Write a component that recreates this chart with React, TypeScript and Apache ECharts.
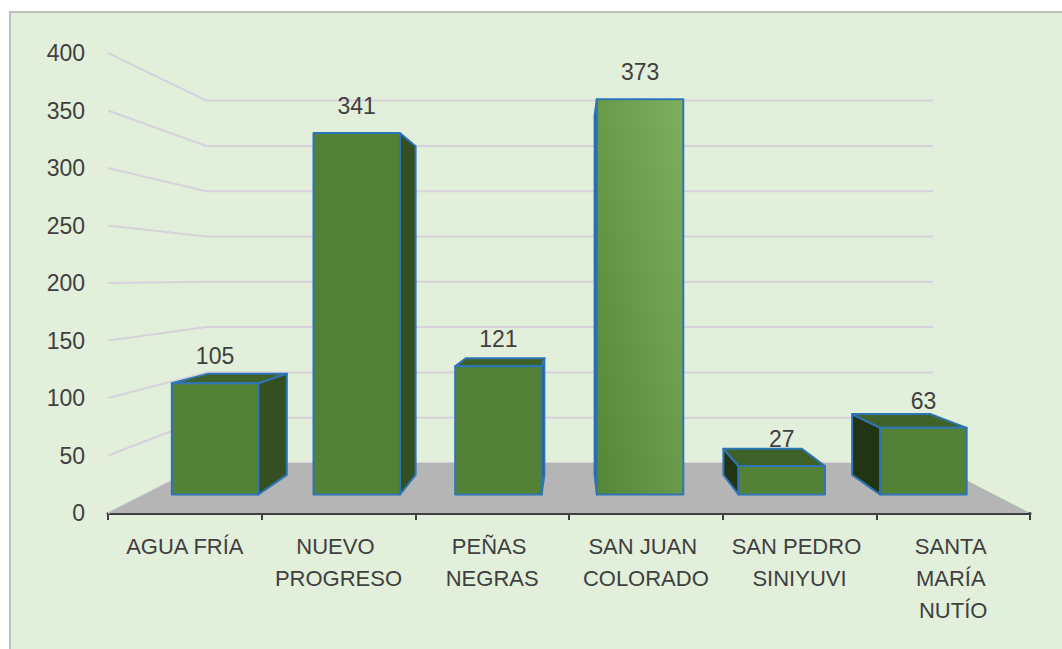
import React, { useEffect, useRef } from "react";
import * as echarts from "echarts";

const CATEGORIES = [
  "AGUA FRÍA",
  "NUEVO PROGRESO",
  "PEÑAS NEGRAS",
  "SAN JUAN COLORADO",
  "SAN PEDRO SINIYUVI",
  "SANTA MARÍA NUTÍO",
];
const VALUES = [105, 341, 121, 373, 27, 63];
const Y_TICKS = [0, 50, 100, 150, 200, 250, 300, 350, 400];
const HIGHLIGHT_INDEX = 3;

// perspective (vanishing point and depth scales)
const CX = 572;
const CY = 277.4;
const S_FRONT = 0.922;
const S_BACK = 0.838;
const S_WALL = 0.788;

const proj = (x: number, y: number, s: number) => [CX + s * (x - CX), CY + s * (y - CY)];

const FONT = "Liberation Sans";
const TEXT = "#404040";
const EDGE = "#2E75B6";

export default function App() {
  const ref = useRef<HTMLDivElement>(null);

  useEffect(() => {
    if (!ref.current) return;
    const chart = echarts.init(ref.current, null, { renderer: "svg" });

    const gridRender = (params: any, api: any) => {
      const cs = params.coordSys;
      const v = api.value(1);
      const y = api.coord([0, v])[1];
      const x0 = cs.x;
      const x1 = cs.x + cs.width;
      const a = [x0, y];
      const b = proj(x0, y, S_WALL);
      const c = proj(x1, y, S_WALL);
      return {
        type: "polyline",
        shape: { points: [a, b, c] },
        style: { stroke: "#D8D2DC", lineWidth: 2, fill: null },
        silent: true,
      };
    };

    const floorRender = (params: any, api: any) => {
      const cs = params.coordSys;
      const y = api.coord([0, 0])[1];
      const x0 = cs.x;
      const x1 = cs.x + cs.width;
      return {
        type: "polygon",
        shape: { points: [[x0, y], [x1, y], proj(x1, y, S_WALL), proj(x0, y, S_WALL)] },
        style: { fill: "#B5B5B5", stroke: null },
        silent: true,
      };
    };

    const barRender = (params: any, api: any) => {
      const i = api.value(0);
      const v = api.value(1);
      const top = api.coord([i, v]);
      const base = api.coord([i, 0]);
      const bw = api.size([1, 0])[0] * 0.61;
      const xl = top[0] - bw / 2;
      const xr = top[0] + bw / 2;
      const yt = top[1];
      const yb = base[1];
      const F = (x: number, y: number) => proj(x, y, S_FRONT);
      const B = (x: number, y: number) => proj(x, y, S_BACK);
      const hl = i === HIGHLIGHT_INDEX;
      const frontFill = hl
        ? {
            type: "linear",
            x: 0,
            y: 1,
            x2: 1,
            y2: 0,
            colorStops: [
              { offset: 0, color: "#548636" },
              { offset: 1, color: "#7DAF5D" },
            ],
          }
        : "#538135";
      const edge = { stroke: EDGE, lineWidth: 2, lineJoin: "round" };
      const children: any[] = [];
      if (xr < CX) {
        children.push({
          type: "polygon",
          shape: { points: [F(xr, yt), B(xr, yt), B(xr, yb), F(xr, yb)] },
          style: { fill: "#344F21", ...edge },
        });
      }
      if (xl > CX) {
        children.push({
          type: "polygon",
          shape: { points: [F(xl, yt), B(xl, yt), B(xl, yb), F(xl, yb)] },
          style: { fill: "#213514", ...edge },
        });
      }
      if (yt > CY) {
        children.push({
          type: "polygon",
          shape: { points: [F(xl, yt), F(xr, yt), B(xr, yt), B(xl, yt)] },
          style: { fill: "#3E6229", ...edge },
        });
      }
      children.push({
        type: "polygon",
        shape: { points: [F(xl, yt), F(xr, yt), F(xr, yb), F(xl, yb)] },
        style: { fill: frontFill, ...edge },
      });
      const lp = F(top[0], yt);
      children.push({
        type: "text",
        style: {
          text: String(v),
          x: lp[0],
          y: lp[1] - 27,
          align: "center",
          verticalAlign: "middle",
          fill: TEXT,
          font: `23px "${FONT}"`,
        },
      });
      return { type: "group", children };
    };

    chart.setOption({
      animation: false,
      backgroundColor: "transparent",
      graphic: [
        {
          type: "rect",
          z: -1,
          silent: true,
          shape: { x: 10, y: 12, width: 1060, height: 645 },
          style: { fill: "#E2EFDA", stroke: "#BFBFBF", lineWidth: 2 },
        },
      ],
      grid: { left: 108, right: 32, top: 53, bottom: 136, containLabel: false },
      xAxis: {
        type: "category",
        data: CATEGORIES,
        boundaryGap: true,
        axisLine: { show: true, lineStyle: { color: "#3F3F3F", width: 3 } },
        axisTick: { show: true, length: 7, lineStyle: { color: "#3F3F3F", width: 2 } },
        axisLabel: {
          interval: 0,
          color: TEXT,
          fontFamily: FONT,
          fontSize: 22,
          lineHeight: 32,
          margin: 17,
          width: 136,
          overflow: "break",
        },
        splitLine: { show: false },
      },
      yAxis: {
        type: "value",
        min: 0,
        max: 400,
        interval: 50,
        axisLine: { show: false },
        axisTick: { show: false },
        splitLine: { show: false },
        axisLabel: { color: TEXT, fontFamily: FONT, fontSize: 23, margin: 23 },
      },
      series: [
        {
          type: "custom",
          z: 1,
          renderItem: gridRender,
          data: Y_TICKS.map((t) => [0, t]),
          silent: true,
        },
        {
          type: "custom",
          z: 2,
          renderItem: floorRender,
          data: [[0, 0]],
          silent: true,
        },
        {
          type: "custom",
          z: 3,
          renderItem: barRender,
          data: VALUES.map((v, i) => [i, v]),
          silent: true,
        },
      ],
    });

    return () => chart.dispose();
  }, []);

  return (
    <div
      ref={ref}
      style={{ position: "absolute", left: 0, top: 0, width: 1062, height: 649, background: "#FFFFFF" }}
    />
  );
}
